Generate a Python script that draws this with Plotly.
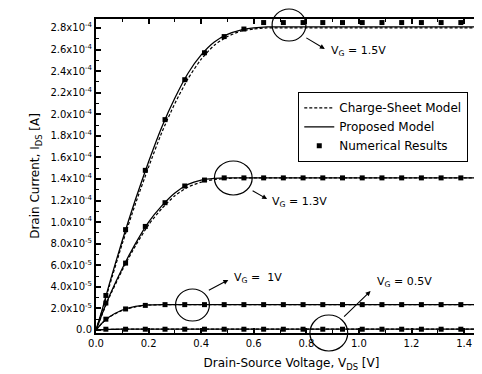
import plotly.graph_objects as go

SCALE = 1e-4  # values below are in units of 1e-4 A

# ---- model curves (drain-source voltage grid) ----
V_LINE = [0, 0.025, 0.05, 0.1, 0.15, 0.2, 0.25, 0.3, 0.35, 0.4, 0.45, 0.5, 0.55,
          0.6, 0.65, 0.7, 0.75, 0.8, 0.9, 1.0, 1.1, 1.2, 1.3, 1.4, 1.5]

PROP_15 = [0, 0.20, 0.42, 0.83, 1.21, 1.56, 1.88, 2.15, 2.38, 2.55, 2.67, 2.74, 2.78,
           2.80, 2.81, 2.81, 2.81, 2.81, 2.81, 2.81, 2.81, 2.81, 2.81, 2.81, 2.81]
CS_15 = [0, 0.19, 0.40, 0.80, 1.17, 1.51, 1.83, 2.10, 2.33, 2.51, 2.64, 2.72, 2.77,
         2.79, 2.80, 2.80, 2.80, 2.80, 2.80, 2.80, 2.80, 2.80, 2.80, 2.80, 2.80]
PROP_13 = [0, 0.16, 0.31, 0.57, 0.80, 1.00, 1.15, 1.27, 1.35, 1.39, 1.405, 1.41, 1.41,
           1.41, 1.41, 1.41, 1.41, 1.41, 1.41, 1.41, 1.41, 1.41, 1.41, 1.41, 1.41]
CS_13 = [0, 0.155, 0.30, 0.555, 0.78, 0.975, 1.125, 1.245, 1.325, 1.37, 1.395, 1.405, 1.41,
         1.41, 1.41, 1.41, 1.41, 1.41, 1.41, 1.41, 1.41, 1.41, 1.41, 1.41, 1.41]
PROP_10 = [0, 0.07, 0.12, 0.185, 0.218, 0.232, 0.235, 0.235, 0.235, 0.235, 0.235, 0.235, 0.235,
           0.235, 0.235, 0.235, 0.235, 0.235, 0.235, 0.235, 0.235, 0.235, 0.235, 0.235, 0.235]
CS_10 = [0, 0.068, 0.118, 0.182, 0.215, 0.230, 0.234, 0.235, 0.235, 0.235, 0.235, 0.235, 0.235,
         0.235, 0.235, 0.235, 0.235, 0.235, 0.235, 0.235, 0.235, 0.235, 0.235, 0.235, 0.235]
PROP_05 = [0, 0.004, 0.006, 0.007, 0.007, 0.007, 0.007, 0.007, 0.007, 0.007, 0.007, 0.007, 0.007,
           0.007, 0.007, 0.007, 0.007, 0.007, 0.007, 0.007, 0.007, 0.007, 0.007, 0.007, 0.007]
CS_05 = [0, 0.004, 0.006, 0.007, 0.007, 0.007, 0.007, 0.007, 0.007, 0.007, 0.007, 0.007, 0.007,
         0.007, 0.007, 0.007, 0.007, 0.007, 0.007, 0.007, 0.007, 0.007, 0.007, 0.007, 0.007]

# ---- numerical results ----
V_NUM = [0.0375, 0.1125, 0.1875, 0.2625, 0.3375, 0.4125, 0.4875, 0.5625, 0.6375, 0.7125,
         0.7875, 0.8625, 0.9375, 1.0125, 1.0875, 1.1625, 1.2375, 1.3125, 1.3875, 1.4625]
NUM_15 = [0.32, 0.93, 1.48, 1.95, 2.32, 2.57, 2.72, 2.79, 2.85, 2.85,
          2.85, 2.85, 2.85, 2.85, 2.85, 2.85, 2.85, 2.85, 2.85, 2.85]
NUM_13 = [0.25, 0.62, 0.96, 1.18, 1.335, 1.39, 1.41, 1.41, 1.41, 1.41,
          1.41, 1.41, 1.41, 1.41, 1.41, 1.41, 1.41, 1.41, 1.41, 1.41]
NUM_10 = [0.10, 0.195, 0.228, 0.235, 0.235, 0.235, 0.235, 0.235, 0.235, 0.235,
          0.235, 0.235, 0.235, 0.235, 0.235, 0.235, 0.235, 0.235, 0.235, 0.235]
NUM_05 = [0.007, 0.007, 0.007, 0.007, 0.007, 0.007, 0.007, 0.007, 0.007, 0.007,
          0.007, 0.007, 0.007, 0.007, 0.007, 0.007, 0.007, 0.007, 0.007, 0.007]

Y_TICK_VALS = [0, 2e-5, 4e-5, 6e-5, 8e-5, 1.0e-4, 1.2e-4, 1.4e-4, 1.6e-4, 1.8e-4,
               2.0e-4, 2.2e-4, 2.4e-4, 2.6e-4, 2.8e-4]
Y_TICK_TEXT = ["0.0", "2.0x10<sup>-5</sup>", "4.0x10<sup>-5</sup>", "6.0x10<sup>-5</sup>",
               "8.0x10<sup>-5</sup>", "1.0x10<sup>-4</sup>", "1.2x10<sup>-4</sup>",
               "1.4x10<sup>-4</sup>", "1.6x10<sup>-4</sup>", "1.8x10<sup>-4</sup>",
               "2.0x10<sup>-4</sup>", "2.2x10<sup>-4</sup>", "2.4x10<sup>-4</sup>",
               "2.6x10<sup>-4</sup>", "2.8x10<sup>-4</sup>"]

GATE_LABELS = ["V<sub>G</sub> = 1.5V", "V<sub>G</sub> = 1.3V", "V<sub>G</sub> =  1V", "V<sub>G</sub> = 0.5V"]

FONT = "DejaVu Sans"
W, H = 482, 374
ML, MR, MT, MB = 88, 1, 11, 49
XR = [0, 1.487]
YR = [-0.028e-4, 2.883e-4]

fig = go.Figure()

cs_sets = [CS_15, CS_13, CS_10, CS_05]
pr_sets = [PROP_15, PROP_13, PROP_10, PROP_05]
num_sets = [NUM_15, NUM_13, NUM_10, NUM_05]

for i, ys in enumerate(cs_sets):
    fig.add_trace(go.Scatter(
        x=V_LINE, y=[v * SCALE for v in ys], mode="lines",
        line=dict(color="black", width=1.2, dash="3px,2px", shape="spline", smoothing=0.6),
        name="Charge-Sheet Model", legendgroup="cs", showlegend=(i == 0)))
for i, ys in enumerate(pr_sets):
    fig.add_trace(go.Scatter(
        x=V_LINE, y=[v * SCALE for v in ys], mode="lines",
        line=dict(color="black", width=1.3, shape="spline", smoothing=0.6),
        name="Proposed Model", legendgroup="pm", showlegend=(i == 0)))
for i, ys in enumerate(num_sets):
    fig.add_trace(go.Scatter(
        x=V_NUM, y=[v * SCALE for v in ys], mode="markers",
        marker=dict(symbol="square", size=5, color="black"),
        name="Numerical Results", legendgroup="nr", showlegend=(i == 0)))

pw = W - ML - MR
ph = H - MT - MB


def px(xp):
    return (xp - ML) / pw


def py(yp):
    return 1 - (yp - MT) / ph


# circles (center px, radii px)
circles = [(282, 17, 17, 16), (226, 170, 19, 17), (185, 297, 17, 16), (322, 325, 19, 18)]
shapes = []
for cx, cy, rx, ry in circles:
    shapes.append(dict(type="circle", xref="paper", yref="paper",
                       x0=px(cx - rx), x1=px(cx + rx), y0=py(cy + ry), y1=py(cy - ry),
                       line=dict(color="black", width=1.2)))

# arrows: (from px, to px) and label positions
arrows = [((298, 29), (318, 41)), ((244, 182), (260, 191)),
          ((200, 283), (221, 272)), ((336, 310), (364, 283))]
labels = [(322, 43), (263, 194), (225, 270), (368, 274)]

annotations = []
for (a, b) in arrows:
    annotations.append(dict(xref="paper", yref="paper",
                            x=px(b[0]), y=py(b[1]), ax=a[0] - b[0], ay=a[1] - b[1],
                            text="", showarrow=True, arrowhead=2, arrowsize=0.9,
                            arrowwidth=1.1, arrowcolor="black"))
for txt, (lx, ly) in zip(GATE_LABELS, labels):
    annotations.append(dict(xref="paper", yref="paper", x=px(lx), y=py(ly),
                            text=txt, showarrow=False, xanchor="left", yanchor="middle",
                            font=dict(family=FONT, size=11, color="black")))

fig.update_layout(
    width=W, height=H,
    margin=dict(l=ML, r=MR, t=MT, b=MB),
    paper_bgcolor="white", plot_bgcolor="white",
    font=dict(family=FONT, size=10, color="black"),
    shapes=shapes, annotations=annotations,
    legend=dict(x=px(291), y=py(84), xanchor="left", yanchor="top",
                bgcolor="white", bordercolor="black", borderwidth=1.3,
                font=dict(family=FONT, size=12, color="black"),
                tracegroupgap=0, itemwidth=30),
    xaxis=dict(range=XR, dtick=0.2, tick0=0, tickformat=".1f",
               showgrid=False, zeroline=False,
               showline=True, linecolor="black", linewidth=2, mirror="allticks",
               ticks="inside", ticklen=5, tickwidth=1.5, tickcolor="black",
               minor=dict(ticks="inside", dtick=0.1, ticklen=3, tickwidth=1.2, tickcolor="black"),
               tickfont=dict(family=FONT, size=10),
               title=dict(text="Drain-Source Voltage, V<sub>DS</sub> [V]",
                          font=dict(family=FONT, size=12), standoff=11)),
    yaxis=dict(range=YR, tickvals=Y_TICK_VALS, ticktext=Y_TICK_TEXT,
               showgrid=False, zeroline=False,
               showline=True, linecolor="black", linewidth=2, mirror="allticks",
               ticks="inside", ticklen=5, tickwidth=1.5, tickcolor="black",
               minor=dict(ticks="inside", dtick=1e-5, tick0=0, ticklen=3, tickwidth=1.2, tickcolor="black"),
               tickfont=dict(family=FONT, size=10),
               title=dict(text="Drain Current, I<sub>DS</sub> [A]",
                          font=dict(family=FONT, size=12), standoff=8)),
)

fig.write_html("out.html")
